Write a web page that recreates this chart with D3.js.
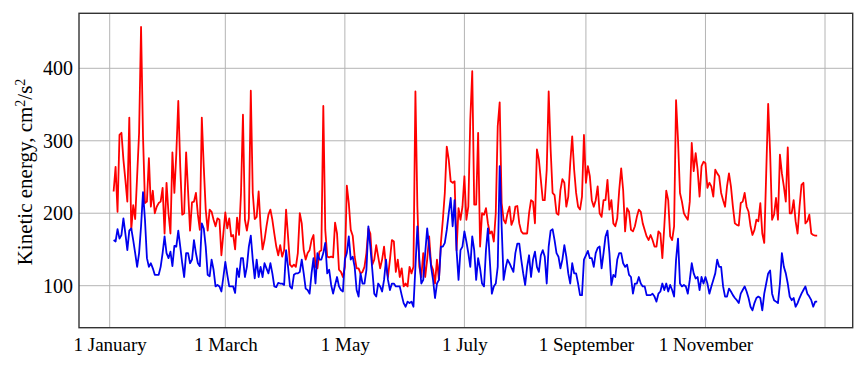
<!DOCTYPE html>
<html>
<head>
<meta charset="utf-8">
<script src="https://cdn.jsdelivr.net/npm/d3@7"></script>
<style>
  html, body { margin: 0; padding: 0; background: #fff; }
  svg { display: block; }
  text { font-family: "Liberation Serif", "Times New Roman", serif; fill: #000; }
</style>
</head>
<body>
<svg id="chart" width="865" height="366"></svg>
<script>
// ---- data (daily values, starting 3 January) ----
const firstDate = Date.UTC(2015, 0, 3);

const redJanMar = [230,264,202,308,311,274,246,216,332,177,211,192,251,311,457,306,214,216,276,209,231,200,209,214,216,235,172,242,200,172,284,228,283,355,264,198,200,284,230,176,215,216,228,198,177,332,264,205,176,205,202,191,182,193,191,142,172,201,179,193,168,170,150,194,170,228,336,191,176,193,369,228,192,195,230,182,150,163,182,198,205,191,172,154,142,156,140];
const redAprJun = [149,205,168,129,126,129,126,145,200,186,149,136,145,149,163,170,126,124,147,149,348,177,140,139,140,139,187,172,122,119,112,126,238,214,177,169,140,124,124,117,119,126,145,179,172,129,136,156,140,124,136,154,126,112,136,163,161,119,136,112,124,99,103,99,126,117,126,368,209,126,112,145,112,136,168,129,122,103,136,108,159,191,228,292,274,244,242];
const redJulSep = [244,149,207,191,209,251,191,209,329,396,212,212,311,154,200,198,207,186,172,175,161,200,320,353,214,191,186,200,209,184,191,209,210,186,175,172,172,172,200,218,216,186,288,274,246,218,218,260,368,288,228,225,200,198,232,247,242,209,223,269,306,260,228,209,205,223,308,242,265,251,218,209,218,237,200,195,218,218,246,205,218,186,182,193,232,262,232,175,207,202,177,175];
const redOctDec = [182,195,205,202,186,177,168,163,170,163,154,154,175,172,138,182,231,218,168,163,182,356,301,228,216,200,195,191,216,297,258,283,260,223,265,271,269,235,242,237,223,260,255,251,228,218,209,237,255,237,209,186,184,183,214,216,228,209,202,182,170,177,191,189,214,172,159,255,351,283,191,198,221,191,281,255,237,216,291,200,200,218,189,172,209,239,242,186,189,198,172,170,169,169];

const blueJanMar = [163,161,178,165,170,193,172,149,176,179,163,145,126,145,182,229,191,138,126,131,124,115,115,115,126,145,168,145,138,147,127,155,154,176,154,131,112,145,145,131,136,163,145,131,127,186,179,154,115,113,136,122,99,101,99,92,112,133,115,99,99,99,90,124,112,138,138,112,126,154,169,136,110,136,112,126,112,131,124,117,131,117,99,98,104,103,103];
const blueAprJun = [101,149,126,99,96,115,117,117,119,136,117,96,94,89,117,138,103,145,136,136,145,159,117,122,101,89,101,112,99,94,92,136,145,168,136,140,126,94,85,117,103,103,122,182,154,122,89,85,103,99,92,108,136,108,94,103,103,99,99,99,87,76,71,78,76,78,71,126,182,136,103,108,145,179,154,126,108,83,103,108,154,154,159,177,200,221,182];
const blueJulSep = [218,149,108,149,154,175,161,145,126,168,149,108,138,124,103,99,149,179,133,89,99,103,126,265,182,108,124,136,131,125,119,145,158,158,136,117,101,126,142,112,136,147,126,119,142,149,140,103,154,176,178,163,145,140,124,136,156,140,117,103,131,117,117,103,87,87,136,142,148,138,138,126,145,152,154,124,145,168,176,145,101,115,112,136,145,145,131,126,129,115,112,89];
const blueOctDec = [103,103,112,103,99,99,87,87,87,89,85,78,89,92,103,94,103,92,101,94,85,136,165,103,99,101,99,89,108,131,117,110,112,94,112,103,112,103,89,99,108,117,136,126,126,99,85,85,96,92,87,83,80,76,89,94,99,92,83,71,66,76,83,85,83,66,89,103,117,121,89,80,78,76,103,145,126,117,103,85,80,83,71,76,83,89,94,99,89,85,80,71,78,78];

const yTicks = [100, 200, 300, 400];
const xLabelDates = ["2015-01-01","2015-03-01","2015-05-01","2015-07-01","2015-09-01","2015-11-01"];
const xGridDates = xLabelDates.concat(["2016-01-01"]);
const yLabel = ["Kinetic energy, cm", "2", "/s", "2"];

// ---- build ----
const DAY = 86400000;
function toSeries(vals) { return vals.map((v, i) => ({ date: new Date(firstDate + i * DAY), v })); }
const redSeries = toSeries([].concat(redJanMar, redAprJun, redJulSep, redOctDec));
const blueSeries = toSeries([].concat(blueJanMar, blueAprJun, blueJulSep, blueOctDec));

const svg = d3.select("#chart");
const frame = { left: 79, right: 852.7, top: 13.3, bottom: 327.7 };

const x = d3.scaleUtc()
  .domain([new Date(Date.UTC(2015,0,1)), new Date(Date.UTC(2016,0,1))])
  .range([109.7, 825]);
const y = d3.scaleLinear().domain([100, 400]).range([285.7, 68.3]);

// grid
const grid = svg.append("g").attr("stroke", "#b4b4b4").attr("stroke-width", 1);
grid.selectAll("line.v").data(xGridDates.map(d => new Date(d + "T00:00:00Z"))).join("line")
  .attr("x1", d => x(d)).attr("x2", d => x(d))
  .attr("y1", frame.top).attr("y2", frame.bottom);
grid.selectAll("line.h").data(yTicks).join("line")
  .attr("x1", frame.left).attr("x2", frame.right)
  .attr("y1", d => y(d)).attr("y2", d => y(d));

// lines
const line = d3.line().x(d => x(d.date)).y(d => y(d.v));
svg.append("path").datum(redSeries).attr("d", line)
  .attr("fill", "none").attr("stroke", "#ff0000").attr("stroke-width", 1.8).attr("stroke-linejoin", "round");
svg.append("path").datum(blueSeries).attr("d", line)
  .attr("fill", "none").attr("stroke", "#0000ee").attr("stroke-width", 1.8).attr("stroke-linejoin", "round");

// frame
svg.append("rect")
  .attr("x", frame.left).attr("y", frame.top)
  .attr("width", frame.right - frame.left).attr("height", frame.bottom - frame.top)
  .attr("fill", "none").attr("stroke", "#333").attr("stroke-width", 1.4);

// axes
const xAxis = d3.axisBottom(x)
  .tickValues(xLabelDates.map(d => new Date(d + "T00:00:00Z")))
  .tickFormat(d3.utcFormat("%-d %B"))
  .tickSize(0).tickPadding(0);
const gx = svg.append("g").attr("transform", `translate(0,${frame.bottom})`).call(xAxis);
gx.select(".domain").remove();
gx.selectAll("text").attr("font-size", 19).attr("dy", null).attr("y", 23)
  .attr("font-family", "Liberation Serif");

const yAxis = d3.axisLeft(y).tickValues(yTicks).tickSize(0).tickPadding(0);
const gy = svg.append("g").attr("transform", `translate(${frame.left - 6},0)`).call(yAxis);
gy.select(".domain").remove();
gy.selectAll("text").attr("font-size", 20).attr("font-family", "Liberation Serif");

// y label
const yl = svg.append("text")
  .attr("transform", "translate(32,172) rotate(-90)")
  .attr("text-anchor", "middle")
  .attr("font-size", 21);
yl.append("tspan").text(yLabel[0]);
yl.append("tspan").attr("baseline-shift", "super").attr("font-size", 14).text(yLabel[1]);
yl.append("tspan").text(yLabel[2]);
yl.append("tspan").attr("baseline-shift", "super").attr("font-size", 14).text(yLabel[3]);
</script>
</body>
</html>
